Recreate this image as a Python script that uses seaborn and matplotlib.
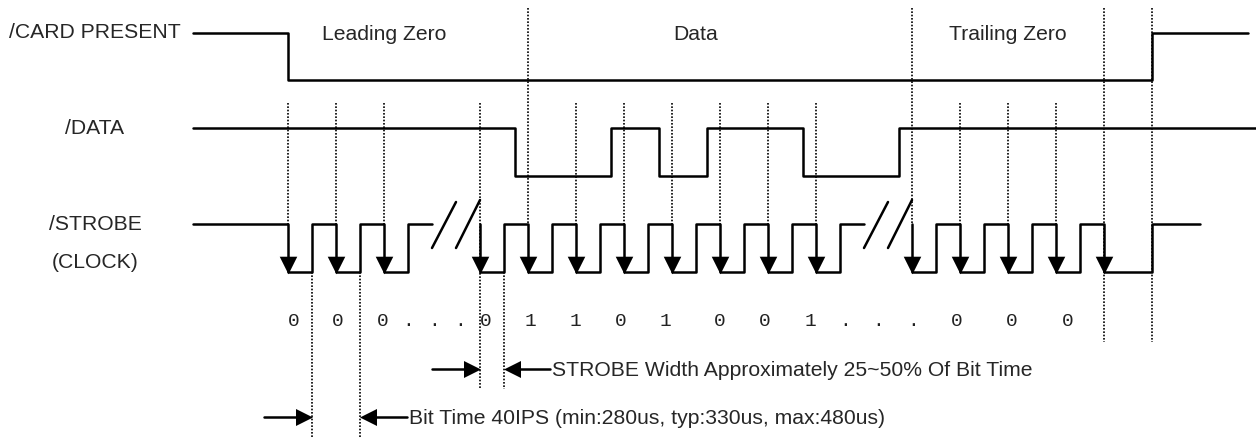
import numpy as np
import pandas as pd
import seaborn as sns
import matplotlib.pyplot as plt

sns.set_style("white")
plt.rcParams["font.family"] = ["Liberation Sans", "DejaVu Sans"]

# levels (high, low) of each trace, in picture units
card_levels = (33, 80)
data_levels = (128, 176)
strobe_levels = (224, 272)

# /CARD PRESENT
card_span = (193, 1248)
card_edges = [288, 1152]

# /DATA
data_span = (193, 1256)
data_edges = [515, 611, 659, 707, 803, 899]

# /STROBE (CLOCK)
strobe_pieces = [(193, 432), (480, 864), (912, 1200)]
strobe_falls = [288, 336, 384, 480, 528, 576, 624, 672, 720, 768, 816,
                912, 960, 1008, 1056, 1104]
strobe_rises = [312, 360, 408, 504, 552, 600, 648, 696, 744, 792, 840,
                936, 984, 1032, 1080, 1152]
break_x = [432, 864]

# dotted guide lines
guide_x = [288, 336, 384, 480, 504, 528, 576, 624, 672, 720, 768, 816,
           912, 960, 1008, 1056, 1104, 1152, 312, 360]
guide_top = [103, 103, 103, 103, 272, 8, 103, 103, 103, 103, 103, 103,
             8, 103, 103, 103, 8, 8, 272, 272]
guide_bot = [224, 224, 224, 389, 389, 224, 224, 224, 224, 224, 224, 224,
             224, 224, 224, 224, 342, 342, 437, 437]

# bit values under the clock
bit_text = ["0", "0", "0", ".", ".", ".", "0", "1", "1", "0", "1", "0", "0", "1",
            ".", ".", ".", "0", "0", "0"]
bit_x = [294, 338, 383, 408, 434, 460, 486, 530, 575, 621, 665, 720, 765, 810,
         845, 878, 913, 957, 1012, 1068]

section_names = ["Leading Zero", "Data", "Trailing Zero"]
section_x = [384, 696, 1008]

signal_names = ["/CARD PRESENT", "/DATA", "/STROBE", "(CLOCK)"]

# dimension arrows: (tail, head, y)
dim_arrows = [(432, 480, 369), (550, 504, 369), (264, 312, 417), (407, 360, 417)]
dim_text = ["STROBE Width Approximately 25~50% Of Bit Time",
            "Bit Time 40IPS (min:280us, typ:330us, max:480us)"]
dim_text_pos = [(552, 370), (409, 418)]


def step_wave(start, end, edges, levels, high=True):
    xs, ys = [start], [levels[0] if high else levels[1]]
    for e in edges:
        if e < start or e > end:
            continue
        xs += [e, e]
        ys += [ys[-1], levels[1] if ys[-1] == levels[0] else levels[0]]
    xs.append(end)
    ys.append(ys[-1])
    return xs, ys


fig = plt.figure(figsize=(12.56, 4.37), dpi=100)
ax = fig.add_axes([0, 0, 1, 1])
ax.set_xlim(0, 1256)
ax.set_ylim(437, 0)
ax.axis("off")

lw = 1.8

# dotted guides
for x, t, b in zip(guide_x, guide_top, guide_bot):
    ax.plot([x, x], [t, b], color="black", lw=1.2, ls=(0, (1, 1)), zorder=1)

# traces
waves = [step_wave(*card_span, card_edges, card_levels),
         step_wave(*data_span, data_edges, data_levels)]
strobe_edges = sorted(strobe_falls + strobe_rises)
for s, e in strobe_pieces:
    waves.append(step_wave(s, e, strobe_edges, strobe_levels))

for i, (xs, ys) in enumerate(waves):
    df = pd.DataFrame({"x": xs, "y": ys})
    sns.lineplot(data=df, x="x", y="y", sort=False, estimator=None,
                 color="black", lw=lw, ax=ax, zorder=3)

# arrow heads on the falling clock edges
sns.scatterplot(x=strobe_falls, y=[strobe_levels[1] - 7.5] * len(strobe_falls),
                marker="v", s=160, color="black", linewidth=0, ax=ax, zorder=4)

# break marks
for bx in break_x:
    ax.plot([bx, bx + 24], [248, 202], color="black", lw=lw)
    ax.plot([bx + 24, bx + 48], [248, 200], color="black", lw=lw)

# texts
ax.text(181, card_levels[0], signal_names[0], ha="right", va="center", fontsize=15.2)
ax.text(95, data_levels[0] + 1, signal_names[1], ha="center", va="center", fontsize=15.2)
ax.text(95, 224, signal_names[2], ha="center", va="center", fontsize=15.2)
ax.text(95, 262, signal_names[3], ha="center", va="center", fontsize=15.2)

for name, x in zip(section_names, section_x):
    ax.text(x, 34, name, ha="center", va="center", fontsize=15.2)

for t, x in zip(bit_text, bit_x):
    ax.text(x, 321, t, ha="center", va="center", fontsize=14,
            family=["Liberation Mono", "DejaVu Sans Mono"], color="#222222")

# dimension arrows
for tail, head, y in dim_arrows:
    d = 1 if head > tail else -1
    ax.plot([tail, head - d * 8], [y, y], color="black", lw=lw)
    sns.scatterplot(x=[head - d * 8], y=[y], marker=">" if d > 0 else "<",
                    s=150, color="black", linewidth=0, ax=ax, zorder=4)

for t, (x, y) in zip(dim_text, dim_text_pos):
    ax.text(x, y, t, ha="left", va="center", fontsize=15.2)

ax.set_xlabel("")
ax.set_ylabel("")
fig.savefig("out.png", dpi=100)
